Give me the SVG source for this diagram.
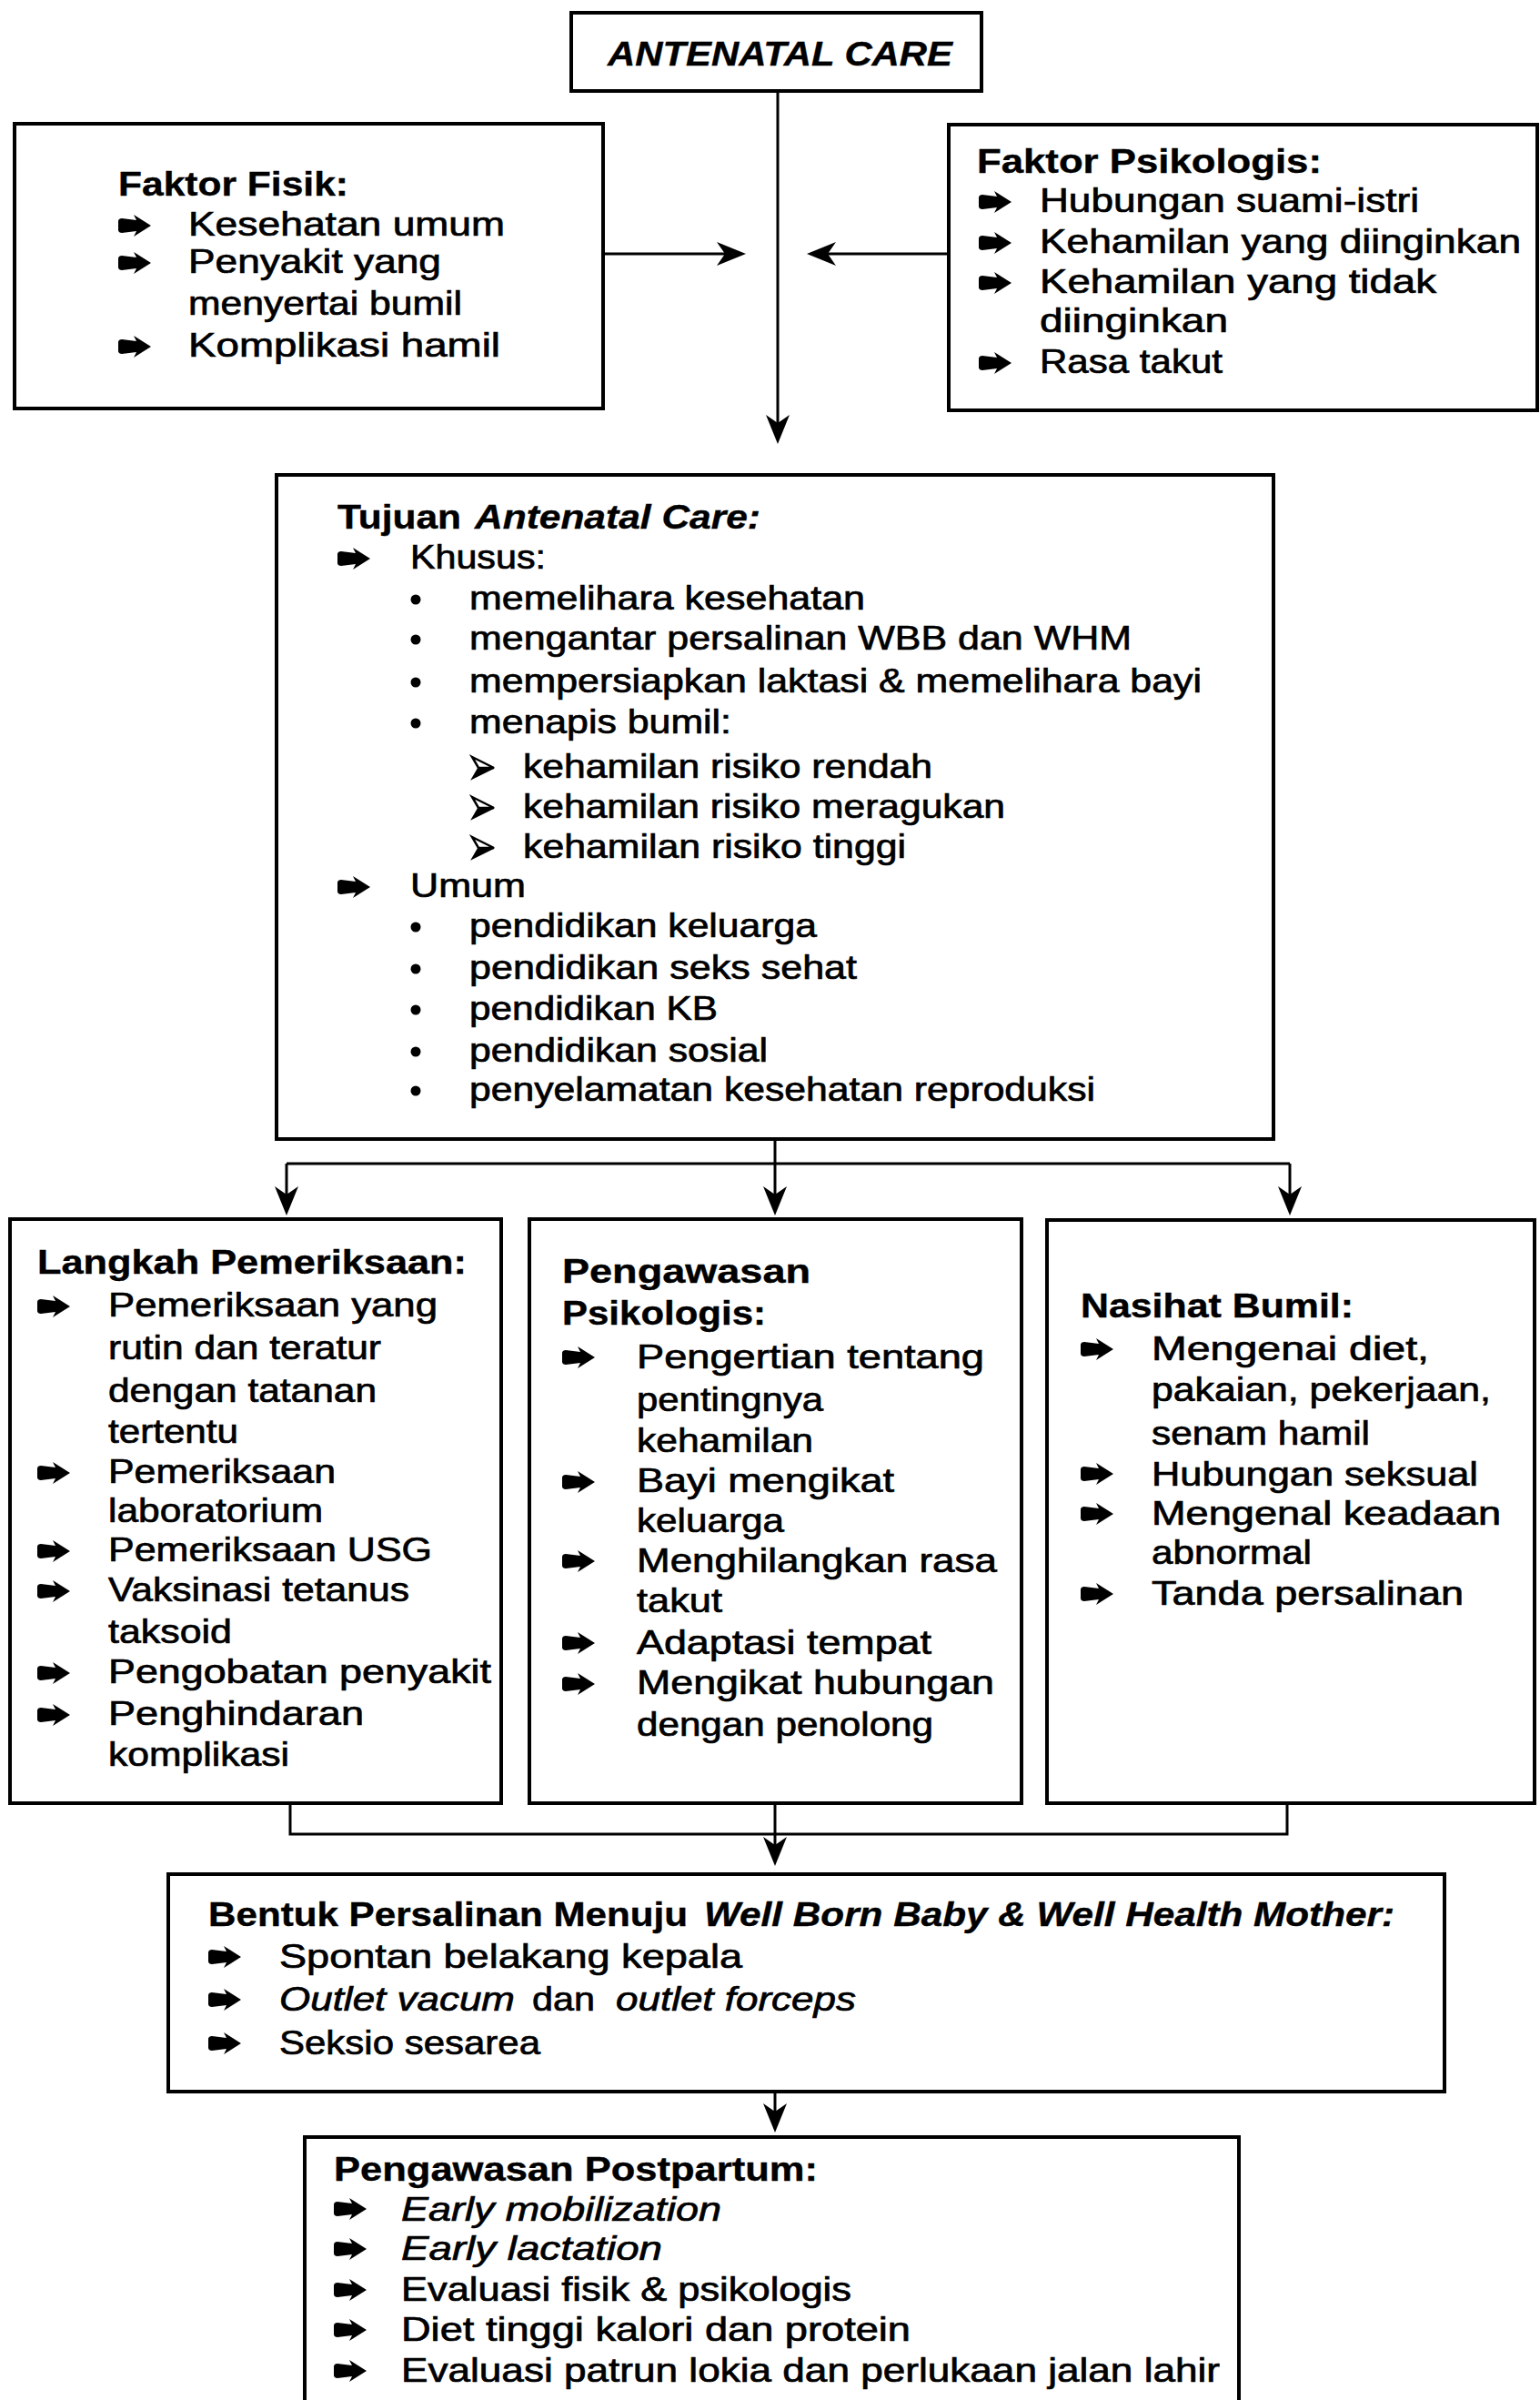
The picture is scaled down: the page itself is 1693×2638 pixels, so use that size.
<svg xmlns="http://www.w3.org/2000/svg" xmlns:xlink="http://www.w3.org/1999/xlink" width="1693" height="2638" viewBox="0 0 1693 2638">
  <style>
    .t { font-family: "Liberation Sans", Arial, Helvetica, sans-serif; font-size: 36px; fill: #000; stroke: #000; stroke-width: 0.7px; }
    .b { font-weight: bold; stroke-width: 0.4px; }
    .i { font-style: italic; }
    .box { fill: #fff; stroke: #000; stroke-width: 4; }
    .cn { fill: none; stroke: #000; stroke-width: 3; }
    .dot { fill: #000; }
  </style>
  <defs>
    <!-- fat arrow used as list bullet -->
    <path id="bul" d="M0,-5 C0,-7 2,-8 4,-8 L20,-6 L17,-12 L36,0 L17,12 L20,6 L4,8 C2,8 0,7 0,5 Z" fill="#000"/>
    <!-- 3D arrowhead bullet -->
    <g id="dart">
      <path d="M1,-12 L25,0 L8,0 Z" fill="#fff" stroke="#000" stroke-width="2.5" stroke-linejoin="miter"/>
      <path d="M8,0 L25,0 L1,12 Z" fill="#000" stroke="#000" stroke-width="1.5"/>
    </g>
    <marker id="ah" markerUnits="userSpaceOnUse" viewBox="-24 -14 36 28" refX="0" refY="0" markerWidth="36" markerHeight="28" orient="auto">
      <path d="M10,0 L-22,-13 L-13,0 L-22,13 Z" fill="#000"/>
    </marker>
  </defs>

  <rect width="1693" height="2638" fill="#fff"/>

  <!-- connectors -->
  <g id="connectors">
    <path class="cn" d="M855,100 V478" marker-end="url(#ah)"/>
    <path class="cn" d="M663,279 H810" marker-end="url(#ah)"/>
    <path class="cn" d="M1043,279 H897" marker-end="url(#ah)"/>
    <path class="cn" d="M852,1252 V1326" marker-end="url(#ah)"/>
    <path class="cn" d="M315,1279 H1418"/>
    <path class="cn" d="M315,1279 V1326" marker-end="url(#ah)"/>
    <path class="cn" d="M1418,1279 V1326" marker-end="url(#ah)"/>
    <path class="cn" d="M319,1982 V2016 H1415 V1982"/>
    <path class="cn" d="M852,1982 V2041" marker-end="url(#ah)"/>
    <path class="cn" d="M852,2299 V2334" marker-end="url(#ah)"/>
  </g>

  <!-- title -->
  <g id="antenatal-care">
    <rect class="box" x="628" y="14" width="451" height="86"/>
    <text class="t b i" x="668" y="72" font-size="42" textLength="379" lengthAdjust="spacingAndGlyphs">ANTENATAL CARE</text>
  </g>

  <!-- physical factors -->
  <g id="faktor-fisik">
    <rect class="box" x="16" y="136" width="647" height="313"/>
    <text class="t b" x="130" y="215" textLength="253" lengthAdjust="spacingAndGlyphs">Faktor Fisik:</text>
    <use href="#bul" x="130" y="248"/>
    <text class="t" x="207" y="259" textLength="348" lengthAdjust="spacingAndGlyphs">Kesehatan  umum</text>
    <use href="#bul" x="130" y="289"/>
    <text class="t" x="207" y="300" textLength="278" lengthAdjust="spacingAndGlyphs">Penyakit yang</text>
    <text class="t" x="207" y="346" textLength="301" lengthAdjust="spacingAndGlyphs">menyertai bumil</text>
    <use href="#bul" x="130" y="381"/>
    <text class="t" x="207" y="392" textLength="343" lengthAdjust="spacingAndGlyphs">Komplikasi  hamil</text>
  </g>

  <!-- psychological factors -->
  <g id="faktor-psikologis">
    <rect class="box" x="1043" y="137" width="647" height="314"/>
    <text class="t b" x="1074" y="190" textLength="379" lengthAdjust="spacingAndGlyphs">Faktor Psikologis:</text>
    <use href="#bul" x="1076" y="222"/>
    <text class="t" x="1143" y="233" textLength="417" lengthAdjust="spacingAndGlyphs">Hubungan  suami-istri</text>
    <use href="#bul" x="1076" y="267"/>
    <text class="t" x="1143" y="278" textLength="529" lengthAdjust="spacingAndGlyphs">Kehamilan  yang  diinginkan</text>
    <use href="#bul" x="1076" y="311"/>
    <text class="t" x="1143" y="322" textLength="436" lengthAdjust="spacingAndGlyphs">Kehamilan  yang  tidak</text>
    <text class="t" x="1143" y="365" textLength="207" lengthAdjust="spacingAndGlyphs">diinginkan</text>
    <use href="#bul" x="1076" y="399"/>
    <text class="t" x="1143" y="410" textLength="201" lengthAdjust="spacingAndGlyphs">Rasa takut</text>
  </g>

  <!-- goals -->
  <g id="tujuan">
    <rect class="box" x="304" y="522" width="1096" height="730"/>
    <text class="t b" x="371" y="581" textLength="136" lengthAdjust="spacingAndGlyphs">Tujuan</text>
    <text class="t b i" x="522" y="581" textLength="314" lengthAdjust="spacingAndGlyphs">Antenatal Care:</text>
    <use href="#bul" x="371" y="614"/>
    <text class="t" x="451" y="625" textLength="149" lengthAdjust="spacingAndGlyphs">Khusus:</text>
    <circle class="dot" cx="457" cy="659" r="5.5"/>
    <text class="t" x="516" y="670" textLength="435" lengthAdjust="spacingAndGlyphs">memelihara kesehatan</text>
    <circle class="dot" cx="457" cy="703" r="5.5"/>
    <text class="t" x="516" y="714" textLength="728" lengthAdjust="spacingAndGlyphs">mengantar persalinan WBB dan WHM</text>
    <circle class="dot" cx="457" cy="750" r="5.5"/>
    <text class="t" x="516" y="761" textLength="805" lengthAdjust="spacingAndGlyphs">mempersiapkan laktasi &amp; memelihara bayi</text>
    <circle class="dot" cx="457" cy="795" r="5.5"/>
    <text class="t" x="516" y="806" textLength="288" lengthAdjust="spacingAndGlyphs">menapis bumil:</text>
    <use href="#dart" x="518" y="844"/>
    <text class="t" x="575" y="855" textLength="450" lengthAdjust="spacingAndGlyphs">kehamilan risiko rendah</text>
    <use href="#dart" x="518" y="888"/>
    <text class="t" x="575" y="899" textLength="530" lengthAdjust="spacingAndGlyphs">kehamilan risiko meragukan</text>
    <use href="#dart" x="518" y="932"/>
    <text class="t" x="575" y="943" textLength="421" lengthAdjust="spacingAndGlyphs">kehamilan risiko tinggi</text>
    <use href="#bul" x="371" y="975"/>
    <text class="t" x="451" y="986" textLength="127" lengthAdjust="spacingAndGlyphs">Umum</text>
    <circle class="dot" cx="457" cy="1019" r="5.5"/>
    <text class="t" x="516" y="1030" textLength="382" lengthAdjust="spacingAndGlyphs">pendidikan keluarga</text>
    <circle class="dot" cx="457" cy="1065" r="5.5"/>
    <text class="t" x="516" y="1076" textLength="426" lengthAdjust="spacingAndGlyphs">pendidikan seks sehat</text>
    <circle class="dot" cx="457" cy="1110" r="5.5"/>
    <text class="t" x="516" y="1121" textLength="273" lengthAdjust="spacingAndGlyphs">pendidikan KB</text>
    <circle class="dot" cx="457" cy="1156" r="5.5"/>
    <text class="t" x="516" y="1167" textLength="328" lengthAdjust="spacingAndGlyphs">pendidikan sosial</text>
    <circle class="dot" cx="457" cy="1199" r="5.5"/>
    <text class="t" x="516" y="1210" textLength="688" lengthAdjust="spacingAndGlyphs">penyelamatan kesehatan reproduksi</text>
  </g>

  <!-- examination steps -->
  <g id="langkah-pemeriksaan">
    <rect class="box" x="11" y="1340" width="540" height="642"/>
    <text class="t b" x="41" y="1400" textLength="472" lengthAdjust="spacingAndGlyphs">Langkah  Pemeriksaan:</text>
    <use href="#bul" x="41" y="1436"/>
    <text class="t" x="119" y="1447" textLength="362" lengthAdjust="spacingAndGlyphs">Pemeriksaan yang</text>
    <text class="t" x="119" y="1494" textLength="300" lengthAdjust="spacingAndGlyphs">rutin dan teratur</text>
    <text class="t" x="119" y="1541" textLength="295" lengthAdjust="spacingAndGlyphs">dengan tatanan</text>
    <text class="t" x="119" y="1586" textLength="143" lengthAdjust="spacingAndGlyphs">tertentu</text>
    <use href="#bul" x="41" y="1619"/>
    <text class="t" x="119" y="1630" textLength="250" lengthAdjust="spacingAndGlyphs">Pemeriksaan</text>
    <text class="t" x="119" y="1673" textLength="236" lengthAdjust="spacingAndGlyphs">laboratorium</text>
    <use href="#bul" x="41" y="1705"/>
    <text class="t" x="119" y="1716" textLength="356" lengthAdjust="spacingAndGlyphs">Pemeriksaan  USG</text>
    <use href="#bul" x="41" y="1749"/>
    <text class="t" x="119" y="1760" textLength="331" lengthAdjust="spacingAndGlyphs">Vaksinasi tetanus</text>
    <text class="t" x="119" y="1806" textLength="136" lengthAdjust="spacingAndGlyphs">taksoid</text>
    <use href="#bul" x="41" y="1839"/>
    <text class="t" x="119" y="1850" textLength="421" lengthAdjust="spacingAndGlyphs">Pengobatan  penyakit</text>
    <use href="#bul" x="41" y="1885"/>
    <text class="t" x="119" y="1896" textLength="281" lengthAdjust="spacingAndGlyphs">Penghindaran</text>
    <text class="t" x="119" y="1941" textLength="199" lengthAdjust="spacingAndGlyphs">komplikasi</text>
  </g>

  <!-- psychological supervision -->
  <g id="pengawasan-psikologis">
    <rect class="box" x="582" y="1340" width="541" height="642"/>
    <text class="t b" x="618" y="1410" textLength="273" lengthAdjust="spacingAndGlyphs">Pengawasan</text>
    <text class="t b" x="618" y="1456" textLength="224" lengthAdjust="spacingAndGlyphs">Psikologis:</text>
    <use href="#bul" x="618" y="1492"/>
    <text class="t" x="700" y="1504" textLength="382" lengthAdjust="spacingAndGlyphs">Pengertian   tentang</text>
    <text class="t" x="700" y="1551" textLength="205" lengthAdjust="spacingAndGlyphs">pentingnya</text>
    <text class="t" x="700" y="1596" textLength="194" lengthAdjust="spacingAndGlyphs">kehamilan</text>
    <use href="#bul" x="618" y="1629"/>
    <text class="t" x="700" y="1640" textLength="283" lengthAdjust="spacingAndGlyphs">Bayi  mengikat</text>
    <text class="t" x="700" y="1684" textLength="162" lengthAdjust="spacingAndGlyphs">keluarga</text>
    <use href="#bul" x="618" y="1716"/>
    <text class="t" x="700" y="1728" textLength="396" lengthAdjust="spacingAndGlyphs">Menghilangkan  rasa</text>
    <text class="t" x="700" y="1772" textLength="94" lengthAdjust="spacingAndGlyphs">takut</text>
    <use href="#bul" x="618" y="1806"/>
    <text class="t" x="700" y="1818" textLength="324" lengthAdjust="spacingAndGlyphs">Adaptasi  tempat</text>
    <use href="#bul" x="618" y="1851"/>
    <text class="t" x="700" y="1862" textLength="393" lengthAdjust="spacingAndGlyphs">Mengikat  hubungan</text>
    <text class="t" x="700" y="1908" textLength="326" lengthAdjust="spacingAndGlyphs">dengan penolong</text>
  </g>

  <!-- advice for pregnant mothers -->
  <g id="nasihat-bumil">
    <rect class="box" x="1151" y="1341" width="536" height="641"/>
    <text class="t b" x="1188" y="1448" textLength="300" lengthAdjust="spacingAndGlyphs">Nasihat Bumil:</text>
    <use href="#bul" x="1188" y="1483"/>
    <text class="t" x="1266" y="1495" textLength="305" lengthAdjust="spacingAndGlyphs">Mengenai   diet,</text>
    <text class="t" x="1266" y="1540" textLength="373" lengthAdjust="spacingAndGlyphs">pakaian, pekerjaan,</text>
    <text class="t" x="1266" y="1588" textLength="240" lengthAdjust="spacingAndGlyphs">senam hamil</text>
    <use href="#bul" x="1188" y="1620"/>
    <text class="t" x="1266" y="1633" textLength="359" lengthAdjust="spacingAndGlyphs">Hubungan seksual</text>
    <use href="#bul" x="1188" y="1664"/>
    <text class="t" x="1266" y="1676" textLength="384" lengthAdjust="spacingAndGlyphs">Mengenal  keadaan</text>
    <text class="t" x="1266" y="1719" textLength="176" lengthAdjust="spacingAndGlyphs">abnormal</text>
    <use href="#bul" x="1188" y="1752"/>
    <text class="t" x="1266" y="1764" textLength="343" lengthAdjust="spacingAndGlyphs">Tanda  persalinan</text>
  </g>

  <!-- delivery forms -->
  <g id="bentuk-persalinan">
    <rect class="box" x="185" y="2060" width="1403" height="239"/>
    <text class="t b" x="229" y="2117" textLength="527" lengthAdjust="spacingAndGlyphs">Bentuk Persalinan Menuju</text>
    <text class="t b i" x="774" y="2117" textLength="759" lengthAdjust="spacingAndGlyphs">Well Born Baby &amp; Well Health Mother:</text>
    <use href="#bul" x="229" y="2151"/>
    <text class="t" x="307" y="2163" textLength="509" lengthAdjust="spacingAndGlyphs">Spontan  belakang  kepala</text>
    <use href="#bul" x="229" y="2198"/>
    <text class="t i" x="307" y="2210" textLength="259" lengthAdjust="spacingAndGlyphs">Outlet vacum</text>
    <text class="t" x="585" y="2210" textLength="69" lengthAdjust="spacingAndGlyphs">dan</text>
    <text class="t i" x="677" y="2210" textLength="264" lengthAdjust="spacingAndGlyphs">outlet  forceps</text>
    <use href="#bul" x="229" y="2246"/>
    <text class="t" x="307" y="2258" textLength="287" lengthAdjust="spacingAndGlyphs">Seksio sesarea</text>
  </g>

  <!-- postpartum supervision -->
  <g id="pengawasan-postpartum">
    <rect class="box" x="335" y="2349" width="1027" height="320"/>
    <text class="t b" x="367" y="2397" textLength="532" lengthAdjust="spacingAndGlyphs">Pengawasan  Postpartum:</text>
    <use href="#bul" x="367" y="2428"/>
    <text class="t i" x="441" y="2441" textLength="352" lengthAdjust="spacingAndGlyphs">Early  mobilization</text>
    <use href="#bul" x="367" y="2472"/>
    <text class="t i" x="441" y="2484" textLength="287" lengthAdjust="spacingAndGlyphs">Early  lactation</text>
    <use href="#bul" x="367" y="2517"/>
    <text class="t" x="441" y="2529" textLength="495" lengthAdjust="spacingAndGlyphs">Evaluasi fisik &amp; psikologis</text>
    <use href="#bul" x="367" y="2561"/>
    <text class="t" x="441" y="2573" textLength="560" lengthAdjust="spacingAndGlyphs">Diet tinggi kalori dan protein</text>
    <use href="#bul" x="367" y="2606"/>
    <text class="t" x="441" y="2618" textLength="900" lengthAdjust="spacingAndGlyphs">Evaluasi patrun lokia dan perlukaan jalan lahir</text>
  </g>
</svg>
